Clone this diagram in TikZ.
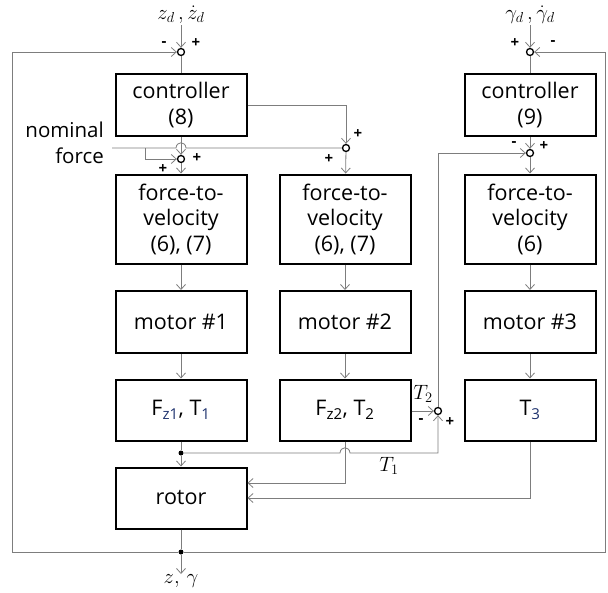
\documentclass[tikz,border=0pt]{standalone}
\usepackage{fontspec}
\setmainfont{Open Sans}
\usetikzlibrary{arrows.meta}
\definecolor{wire}{RGB}{125,125,125}
\definecolor{subblue}{RGB}{30,50,110}
\tikzset{
 box/.style={draw,line width=2pt,minimum width=131pt,align=center,
   font=\fontsize{21.5}{25.5}\selectfont,inner sep=0pt},
 sumpt/.style={circle,draw,line width=1.3pt,inner sep=0pt,minimum size=7pt},
 dotpt/.style={circle,fill,inner sep=0pt,minimum size=5pt},
 sgn/.style={font=\fontsize{15}{15}\selectfont\bfseries,inner sep=0pt},
 mlabel/.style={font=\fontsize{21}{21}\selectfont,inner sep=1pt},
 wire/.style={draw=wire,line width=0.8pt},
 >={Straight Barb[length=5pt,width=9pt]}
}
\begin{document}
\begin{tikzpicture}[x=1pt,y=-1pt]
 \useasboundingbox (0,0) rectangle (608,592);
 % blocks, left column
 \node[box,minimum height=62pt] (ctrlA) at (181,105) {controller\\(8)};
 \node[box,minimum height=89pt] (ftvA) at (181,219) {force-to-\\velocity\\(6), (7)};
 \node[box,minimum height=62pt] (motA) at (181,322) {motor \#1};
 \node[box,minimum height=61pt] (fzA) at (181,410) {F\textsubscript{\color{subblue}z1}, T\textsubscript{\color{subblue}1}};
 \node[box,minimum height=61pt] (rotor) at (181,498) {rotor};
 % middle column
 \node[box,minimum height=89pt] (ftvB) at (345,219) {force-to-\\velocity\\(6), (7)};
 \node[box,minimum height=62pt] (motB) at (345,322) {motor \#2};
 \node[box,minimum height=61pt] (fzB) at (345,410) {F\textsubscript{z2}, T\textsubscript{2}};
 % right column
 \node[box,minimum height=62pt] (ctrlC) at (530,105) {controller\\(9)};
 \node[box,minimum height=89pt] (ftvC) at (530,219) {force-to-\\velocity\\(6)};
 \node[box,minimum height=62pt] (motC) at (530,322) {motor \#3};
 \node[box,minimum height=61pt] (tC) at (530,410) {T\textsubscript{\color{subblue}3}};
 % summing points and branch dots
 \node[sumpt] (sA) at (181,52) {};
 \node[sumpt] (sB) at (181,159) {};
 \node[sumpt] (sC) at (346,148) {};
 \node[sumpt] (sD) at (530,52) {};
 \node[sumpt] (sE) at (530,153) {};
 \node[sumpt] (sF) at (438,411) {};
 \node[dotpt] (dA) at (181,453) {};
 \node[dotpt] (dB) at (181,552) {};
 % inputs, outputs
 \node[mlabel] (inA) at (181,15) {$z_d\,,\dot z_d$};
 \node[mlabel] (inC) at (530,15) {$\gamma_d\,,\dot\gamma_d$};
 \node[mlabel] (outz) at (181,581) {$z,\,\gamma$};
 \node[align=right,font=\fontsize{20.5}{26}\selectfont,anchor=east,inner sep=0pt] (nom) at (104,143) {nominal\\force};
 \coordinate (nomA) at (112,148);
 \coordinate (brA) at (145,148);
 \coordinate (outA) at (181,574);
 % signs
 \node[sgn] (mA) at (164,44) {-};
 \node[sgn] (pA) at (196,43) {+};
 \node[sgn] (pD) at (515,43) {+};
 \node[sgn] (mD) at (553,43) {-};
 \node[sgn] (pB1) at (197,158) {+};
 \node[sgn] (pB2) at (163,169) {+};
 \node[sgn] (pC1) at (358,134) {+};
 \node[sgn] (pC2) at (329,159) {+};
 \node[sgn] (mE) at (514,144) {-};
 \node[sgn] (pE) at (544,146) {+};
 \node[sgn] (mF) at (421,421) {-};
 \node[sgn] (pF) at (450,422) {+};
 \node[mlabel] (lT2) at (423,394) {$T_2$};
 \node[mlabel] (lT1) at (389,466) {$T_1$};
 % wires
 \draw[wire,->] (inA) -- (sA);
 \draw[wire,->] (inC) -- (sD);
 \draw[wire] (sA) -- (ctrlA);
 \draw[wire] (sD) -- (ctrlC);
 \draw[wire,->] (ctrlA) -- (sB);
 \draw[wire,->] (ctrlC) -- (sE);
 \draw[wire,->] (ctrlA.east) -| (sC);
 \draw[wire] (nomA) -- (176,148) .. controls (176.5,141) and (185.5,141) .. (186,148) -- (sC);
 \draw[wire,->] (brA) |- (sB);
 \draw[wire,->] (sB) -- (ftvA);
 \draw[wire,->] (sC) -- (ftvB);
 \draw[wire,->] (sE) -- (ftvC);
 \foreach \a/\b in {ftvA/motA,motA/fzA,ftvB/motB,motB/fzB,ftvC/motC,motC/tC}
  {\draw[wire,->] (\a) -- (\b);}
 \draw[wire] (fzA) -- (dA);
 \draw[wire,->] (dA) -- (rotor);
 \draw[wire,->] (dA) -- (340,453) .. controls (340.5,446) and (349.5,446) .. (350,453) -| (sF);
 \draw[wire,->] (fzB.east |- sF) -- (sF);
 \draw[wire,->] (sF) |- (sE);
 \draw[wire,->] (fzB.south) |- ([yshift=15pt]rotor.east);
 \draw[wire,->] (tC.south) |- (rotor.east);
 \draw[wire] (rotor) -- (dB);
 \draw[wire,->] (dB) -- (outA);
 \draw[wire,->] (dB) -- (12,552) |- (sA);
 \draw[wire,->] (dB) -- (605,552) |- (sD);
\end{tikzpicture}
\end{document}
